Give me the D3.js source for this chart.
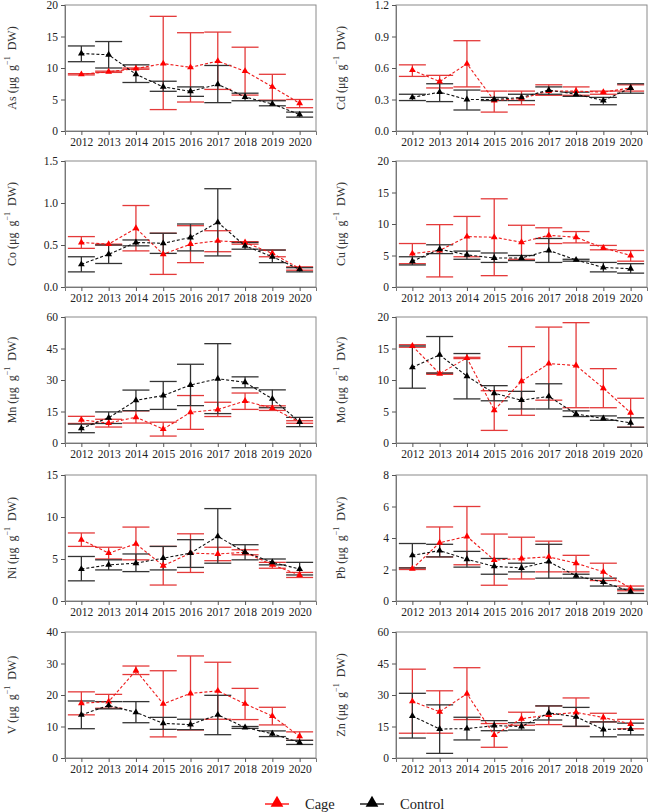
<!DOCTYPE html>
<html>
<head>
<meta charset="utf-8">
<script src="https://cdn.jsdelivr.net/npm/d3@7"></script>
<style>
  body { margin: 0; background: #fff; }
  svg, svg text { font-family: 'Liberation Serif', 'Times New Roman', 'DejaVu Serif', serif; }
</style>
</head>
<body>
<script>
// years on the x axis
const years = [2012, 2013, 2014, 2015, 2016, 2017, 2018, 2019, 2020];

// each entry: [mean, lower, upper]
const asCage = [[9.0,8.9,9.1],[9.4,9.3,9.5],[9.9,9.8,10.0],[10.7,3.4,18.2],[10.1,4.6,15.6],[11.1,6.6,15.7],[9.5,5.7,13.3],[7.0,4.9,9.0],[4.4,3.7,5.0]];
const asCtrl = [[12.3,11.0,13.5],[12.1,10.0,14.2],[9.0,7.7,10.5],[7.0,6.3,7.9],[6.3,5.5,7.0],[7.4,4.5,10.4],[5.4,4.8,6.0],[4.3,4.0,4.8],[2.6,2.2,3.0]];
const cdCage = [[0.58,0.52,0.63],[0.47,0.41,0.53],[0.64,0.42,0.86],[0.29,0.18,0.38],[0.31,0.25,0.38],[0.38,0.34,0.44],[0.38,0.34,0.42],[0.37,0.35,0.38],[0.41,0.38,0.44]];
const cdCtrl = [[0.32,0.29,0.35],[0.37,0.28,0.45],[0.30,0.20,0.39],[0.30,0.29,0.32],[0.32,0.29,0.35],[0.39,0.35,0.42],[0.35,0.33,0.37],[0.29,0.25,0.32],[0.41,0.36,0.45]];
const coCage = [[0.53,0.46,0.60],[0.51,0.50,0.51],[0.70,0.43,0.97],[0.39,0.15,0.64],[0.51,0.29,0.73],[0.55,0.42,0.67],[0.53,0.51,0.54],[0.40,0.36,0.44],[0.22,0.20,0.24]];
const coCtrl = [[0.27,0.18,0.36],[0.39,0.28,0.50],[0.53,0.49,0.56],[0.52,0.40,0.64],[0.59,0.43,0.75],[0.77,0.37,1.17],[0.49,0.45,0.53],[0.36,0.29,0.44],[0.21,0.18,0.23]];
const cuCage = [[5.3,3.7,6.9],[5.8,1.6,9.9],[8.0,4.8,11.2],[7.9,1.8,14.0],[7.1,4.4,9.8],[8.2,6.9,9.4],[7.9,7.0,8.8],[6.2,5.9,6.6],[5.0,4.1,5.8]];
const cuCtrl = [[4.1,3.5,4.8],[6.0,5.3,6.7],[5.1,4.4,5.7],[4.6,3.9,5.4],[4.6,4.2,5.0],[5.8,3.9,7.7],[4.3,4.1,4.4],[3.1,2.4,3.9],[2.9,2.2,3.7]];
const mnCage = [[11.0,9.3,12.7],[9.5,7.6,11.3],[12.3,9.5,15.3],[6.6,3.3,9.9],[14.6,6.5,22.6],[15.9,12.6,19.4],[20.0,16.0,23.8],[16.6,15.5,17.7],[10.0,9.4,10.6]];
const mnCtrl = [[7.0,4.9,9.0],[12.0,9.3,14.8],[20.3,15.4,25.2],[22.6,16.0,29.3],[27.6,17.8,37.5],[30.6,14.0,47.3],[28.9,26.3,31.5],[21.0,16.8,25.3],[10.0,7.8,12.2]];
const moCage = [[15.4,15.2,15.6],[11.0,10.9,11.1],[13.5,13.4,13.6],[5.2,2.0,8.3],[9.8,4.4,15.3],[12.6,6.8,18.4],[12.3,5.6,19.1],[8.7,5.6,11.8],[4.8,2.5,7.1]];
const moCtrl = [[12.0,8.7,15.4],[14.0,11.1,16.9],[10.6,7.0,14.2],[7.9,6.7,9.1],[6.8,5.4,8.2],[7.4,5.4,9.4],[4.6,4.2,5.1],[3.9,3.6,4.3],[3.2,2.5,4.0]];
const niCage = [[7.3,6.5,8.1],[5.7,5.0,6.4],[6.8,4.9,8.8],[4.2,1.9,6.5],[5.7,3.4,8.0],[5.6,4.8,6.4],[5.8,5.5,6.1],[4.3,3.9,4.6],[3.1,2.8,3.4]];
const niCtrl = [[3.8,2.4,5.3],[4.3,3.7,4.9],[4.5,3.5,5.6],[5.1,3.7,6.5],[5.7,4.0,7.3],[7.7,4.5,11.0],[5.8,4.9,6.7],[4.6,4.3,5.0],[3.8,3.1,4.6]];
const pbCage = [[2.05,2.0,2.1],[3.7,2.8,4.7],[4.1,2.3,6.0],[2.6,1.0,4.25],[2.7,1.4,4.05],[2.8,1.85,3.8],[2.4,1.85,2.9],[1.85,1.3,2.4],[0.8,0.65,0.95]];
const pbCtrl = [[2.9,2.1,3.65],[3.2,2.8,3.6],[2.65,2.15,3.15],[2.2,1.7,2.7],[2.1,1.85,2.4],[2.5,1.45,3.6],[1.6,1.45,1.7],[1.2,0.95,1.45],[0.6,0.48,0.75]];
const vCage = [[17.4,13.7,21.0],[17.9,15.8,20.2],[27.8,26.5,29.2],[17.2,6.7,27.7],[20.5,8.9,32.4],[21.3,12.3,30.4],[17.2,12.2,22.1],[13.3,10.5,16.1],[6.9,5.6,8.3]];
const vCtrl = [[13.7,9.3,18.1],[16.7,15.6,17.9],[14.5,11.2,17.9],[11.0,9.1,12.9],[10.6,9.0,12.3],[13.7,7.4,19.9],[9.7,9.4,10.0],[7.7,6.8,8.6],[4.9,4.3,5.6]];
const znCage = [[27.0,11.8,42.3],[22.0,11.8,32.0],[30.6,18.3,43.0],[10.9,5.1,16.4],[18.7,15.6,21.8],[20.5,15.9,24.8],[21.7,15.0,28.6],[19.3,17.2,21.3],[16.2,13.9,18.4]];
const znCtrl = [[20.0,9.5,30.8],[13.8,2.2,25.3],[14.0,8.6,19.4],[15.4,13.0,17.8],[15.0,13.3,16.8],[21.5,18.1,24.8],[19.6,15.1,24.1],[13.6,10.1,17.2],[13.8,11.0,16.6]];

// y tick values per element
const asTicks = [0, 5, 10, 15, 20];
const cdTicks = [0, 0.3, 0.6, 0.9, 1.2];
const coTicks = [0, 0.5, 1.0, 1.5];
const cuTicks = [0, 5, 10, 15, 20];
const mnTicks = [0, 15, 30, 45, 60];
const moTicks = [0, 5, 10, 15, 20];
const niTicks = [0, 5, 10, 15];
const pbTicks = [0, 2, 4, 6, 8];
const vTicks = [0, 10, 20, 30, 40];
const znTicks = [0, 15, 30, 45, 60];

const panels = [
  { name: "As", cage: asCage, ctrl: asCtrl, ticks: asTicks, fmt: d3.format("d") },
  { name: "Cd", cage: cdCage, ctrl: cdCtrl, ticks: cdTicks, fmt: d3.format(".1f") },
  { name: "Co", cage: coCage, ctrl: coCtrl, ticks: coTicks, fmt: d3.format(".1f") },
  { name: "Cu", cage: cuCage, ctrl: cuCtrl, ticks: cuTicks, fmt: d3.format("d") },
  { name: "Mn", cage: mnCage, ctrl: mnCtrl, ticks: mnTicks, fmt: d3.format("d") },
  { name: "Mo", cage: moCage, ctrl: moCtrl, ticks: moTicks, fmt: d3.format("d") },
  { name: "Ni", cage: niCage, ctrl: niCtrl, ticks: niTicks, fmt: d3.format("d") },
  { name: "Pb", cage: pbCage, ctrl: pbCtrl, ticks: pbTicks, fmt: d3.format("d") },
  { name: "V",  cage: vCage,  ctrl: vCtrl,  ticks: vTicks,  fmt: d3.format("d") },
  { name: "Zn", cage: znCage, ctrl: znCtrl, ticks: znTicks, fmt: d3.format("d") }
];

const W = 649, H = 812;
const FONT = "'Liberation Serif', 'Times New Roman', 'DejaVu Serif', serif";
const colX = [[65, 316], [396, 647]];
const labelX = [12, 341];
const rowTop = [5, 161, 317, 475, 632];
const plotH = 126;
const capHalf = 13.5;

const RED = "#ee1c1c", RED_BAR = "#e43a3a", BLACK = "#111", BLACK_BAR = "#333";

const svg = d3.select("body").append("svg")
  .attr("width", W).attr("height", H)
  .attr("font-family", FONT);

panels.forEach((p, i) => {
  const col = i % 2, row = Math.floor(i / 2);
  const [x0, x1] = colX[col];
  const y0 = rowTop[row], y1 = y0 + plotH;

  const x = d3.scalePoint().domain(years).range([x0, x1]).padding(0.6);
  const y = d3.scaleLinear().domain([0, p.ticks[p.ticks.length - 1]]).range([y1, y0]);

  const g = svg.append("g");

  // frame
  g.append("rect")
    .attr("x", x0).attr("y", y0)
    .attr("width", x1 - x0).attr("height", plotH)
    .attr("fill", "none").attr("stroke", "#8a8a8a").attr("stroke-width", 1);

  // axes
  const yAxis = g.append("g")
    .attr("transform", `translate(${x0},0)`)
    .call(d3.axisLeft(y).tickValues(p.ticks).tickFormat(p.fmt).tickSize(4).tickPadding(3));
  const xAxis = g.append("g")
    .attr("transform", `translate(0,${y1})`)
    .call(d3.axisBottom(x).tickSize(4).tickPadding(3).tickFormat(d3.format("d")));
  [yAxis, xAxis].forEach(a => {
    a.attr("font-family", FONT).attr("font-size", 11.5);
    a.select(".domain").attr("stroke", "#777");
    a.selectAll(".tick line").attr("stroke", "#555");
    a.selectAll(".tick text").attr("fill", "#222");
  });

  // y label
  const lab = g.append("text")
    .attr("transform", `translate(${labelX[col]},${(y0 + y1) / 2}) rotate(-90)`)
    .attr("text-anchor", "middle")
    .attr("dominant-baseline", "central")
    .attr("fill", "#333")
    .attr("font-size", 12);
  lab.append("tspan").text(p.name + " (\u03bcg\u00a0\u00a0g");
  lab.append("tspan").attr("dy", -5).attr("font-size", 8).text("\u22121");
  lab.append("tspan").attr("dy", 5).text("\u00a0\u00a0DW)");

  const series = [
    { data: p.cage, line: RED, bar: RED_BAR, mark: "#ff0000" },
    { data: p.ctrl, line: BLACK, bar: BLACK_BAR, mark: "#000" }
  ];

  series.forEach(s => {
    const eb = g.append("g").attr("stroke", s.bar).attr("stroke-width", 1.3);
    s.data.forEach((d, j) => {
      const cx = x(years[j]);
      eb.append("line").attr("x1", cx).attr("x2", cx).attr("y1", y(d[1])).attr("y2", y(d[2]));
      eb.append("line").attr("x1", cx - capHalf).attr("x2", cx + capHalf).attr("y1", y(d[1])).attr("y2", y(d[1]));
      eb.append("line").attr("x1", cx - capHalf).attr("x2", cx + capHalf).attr("y1", y(d[2])).attr("y2", y(d[2]));
    });
  });

  series.forEach(s => {
    const line = d3.line().x((d, j) => x(years[j])).y(d => y(d[0]));
    g.append("path")
      .attr("d", line(s.data))
      .attr("fill", "none")
      .attr("stroke", s.line)
      .attr("stroke-width", 1.1)
      .attr("stroke-dasharray", "3,2");
    g.selectAll(null).data(s.data).enter().append("path")
      .attr("d", d3.symbol(d3.symbolTriangle, 20))
      .attr("transform", (d, j) => `translate(${x(years[j])},${y(d[0])})`)
      .attr("fill", s.mark);
  });
});

// legend
const legend = [
  { label: "Cage", color: "#ff0000", x: 277 },
  { label: "Control", color: "#000", x: 372 }
];
const lg = svg.append("g");
legend.forEach(l => {
  lg.append("line")
    .attr("x1", l.x - 12).attr("x2", l.x + 12)
    .attr("y1", 804).attr("y2", 804)
    .attr("stroke", l.color).attr("stroke-width", 1.3);
  lg.append("path")
    .attr("d", d3.symbol(d3.symbolTriangle, 70))
    .attr("transform", `translate(${l.x},${803})`)
    .attr("fill", l.color);
  lg.append("text")
    .attr("x", l.x + 28).attr("y", 804)
    .attr("dominant-baseline", "central")
    .attr("fill", "#222")
    .attr("font-size", 14.5)
    .text(l.label);
});
</script>
</body>
</html>
